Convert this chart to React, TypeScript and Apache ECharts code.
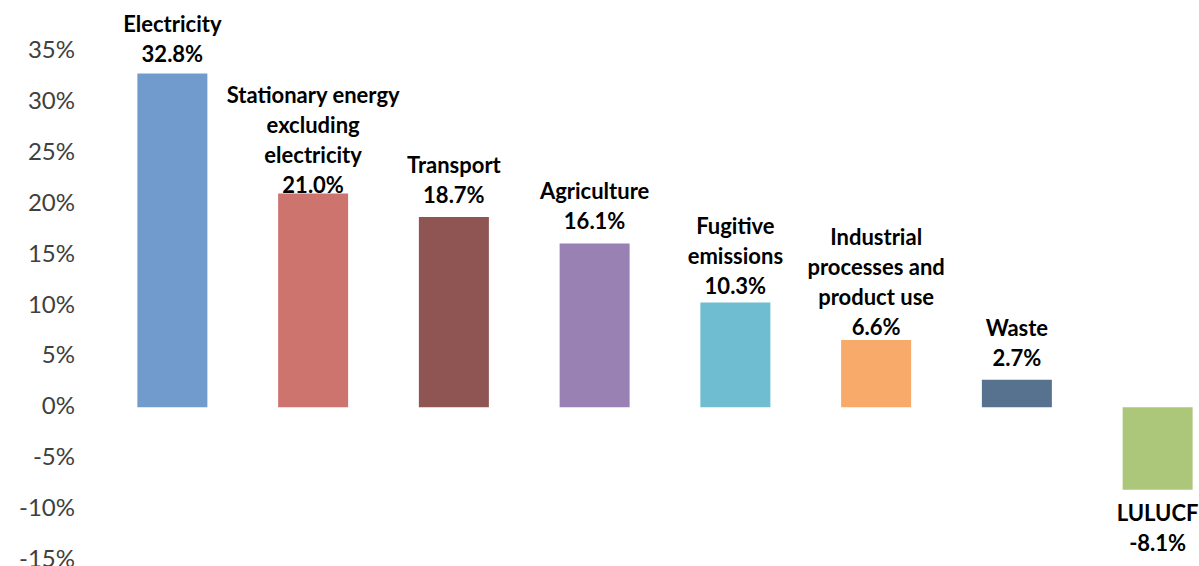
import React, { useEffect, useRef } from "react";
import * as echarts from "echarts";

// Sector shares of emissions (%)
const sectors = [
  "Electricity",
  "Stationary energy\nexcluding\nelectricity",
  "Transport",
  "Agriculture",
  "Fugitive\nemissions",
  "Industrial\nprocesses and\nproduct use",
  "Waste",
  "LULUCF",
];
const shares = [32.8, 21.0, 18.7, 16.1, 10.3, 6.6, 2.7, -8.1];
const barColors = [
  "#729BCD",
  "#CD746F",
  "#8E5553",
  "#9982B3",
  "#6EBDD1",
  "#F8AA6A",
  "#57728F",
  "#ADC77A",
];
const yTicks = { min: -15, max: 35, step: 5 };

// gap between each label block and its bar
const labelGaps = [5, -6, 7, 8, 2, -1, 7, 8];

export default function App() {
  const ref = useRef<HTMLDivElement>(null);

  useEffect(() => {
    if (!ref.current) return;
    const chart = echarts.init(ref.current, null, { renderer: "svg" });
    const font = "Lato, 'Open Sans', sans-serif";
    chart.setOption({
      animation: false,
      backgroundColor: "#ffffff",
      grid: {
        left: 102,
        top: 51,
        bottom: 6,
        width: 1126,
        outerBoundsMode: "none",
        containLabel: false,
      },
      xAxis: {
        type: "category",
        data: sectors,
        axisLine: { show: false },
        axisTick: { show: false },
        axisLabel: { show: false },
        splitLine: { show: false },
      },
      yAxis: {
        type: "value",
        min: yTicks.min,
        max: yTicks.max,
        interval: yTicks.step,
        axisLine: { show: false },
        axisTick: { show: false },
        splitLine: { show: false },
        axisLabel: {
          formatter: "{value}%",
          color: "#404040",
          fontFamily: font,
          fontSize: 24,
          margin: 27,
          verticalAlign: "bottom",
          lineHeight: 5,
        },
      },
      series: [
        {
          type: "bar",
          barWidth: 70,
          data: shares.map((v, i) => ({
            value: v,
            itemStyle: { color: barColors[i] },
            label: {
              position: v < 0 ? "bottom" : "top",
              distance: labelGaps[i],
            },
          })),
          label: {
            show: true,
            color: "#000000",
            fontFamily: font,
            fontWeight: "bold",
            fontSize: 22,
            lineHeight: 30,
            formatter: (p: any) => `${sectors[p.dataIndex]}\n${p.value.toFixed(1)}%`,
          },
        },
      ],
    });
    return () => chart.dispose();
  }, []);

  return (
    <div style={{ position: "fixed", left: 0, top: 0, width: 1199, height: 566, overflow: "hidden" }}>
      <div ref={ref} style={{ width: 1230, height: 566 }} />
    </div>
  );
}
